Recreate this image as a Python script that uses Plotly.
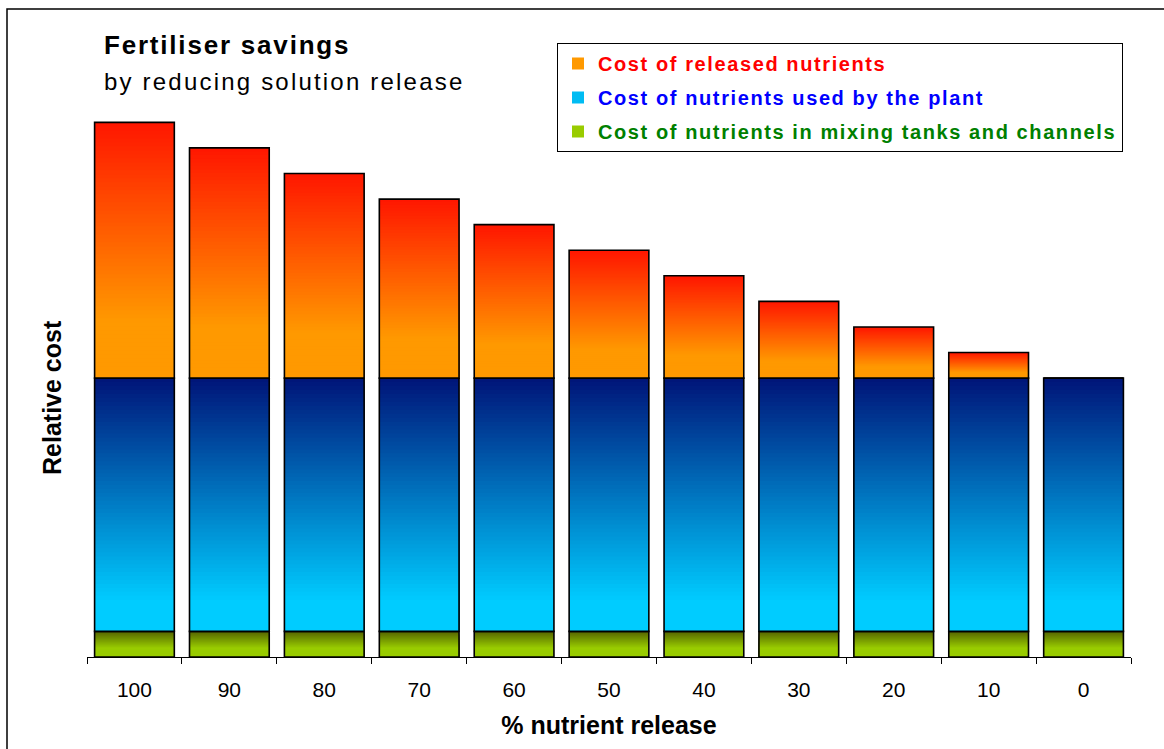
import plotly.graph_objects as go

# ---- data ----
categories = ["100", "90", "80", "70", "60", "50", "40", "30", "20", "10", "0"]
released = [10.0, 9.0, 8.0, 7.0, 6.0, 5.0, 4.0, 3.0, 2.0, 1.0, 0.0]
plant = [9.9] * 11
tanks = [1.0] * 11

series_names = [
    "Cost of released nutrients",
    "Cost of nutrients used by the plant",
    "Cost of nutrients in mixing tanks and channels",
]
series_text_colors = ["#FF0000", "#0000FF", "#008000"]

# gradient styles: (top colour, bottom colour, fraction of height over which gradient runs)
grad_released = ((255, 22, 0), (255, 153, 0), 0.78)
grad_plant = ((0, 20, 120), (0, 204, 255), 0.88)
grad_tanks = ((85, 100, 0), (153, 204, 0), 0.65)

N = 64
FONT = "Liberation Sans, Arial, sans-serif"


def lerp_col(c0, c1, t):
    return "rgb(%d,%d,%d)" % tuple(round(a + (b - a) * t) for a, b in zip(c0, c1))


fig = go.Figure()


def add_segment(values, bases, grad, name, legend_rank, text_color):
    top, bottom, span = grad
    for i in range(N):
        # layer i covers the segment from its base up to (N-i)/N of its height;
        # later layers sit on top of earlier ones -> vertical gradient without seams
        t_mid = (i + 0.5) / N
        col = lerp_col(top, bottom, min(t_mid / span, 1.0))
        y = [v * (N - i) / N for v in values]
        show = (i == int(N * 0.8))
        fig.add_trace(go.Bar(
            x=categories, y=y, base=bases,
            marker=dict(color=col, line=dict(width=0)),
            showlegend=show,
            name='<span style="color:%s;letter-spacing:1.6px">%s</span>' % (text_color, name),
            legendgroup=name, legendrank=legend_rank,
            hoverinfo="skip",
        ))
    fig.add_trace(go.Bar(
        x=categories, y=values, base=bases,
        marker=dict(color="rgba(0,0,0,0)", line=dict(color="black", width=1.6)),
        showlegend=False, legendgroup=name, legendrank=legend_rank, hoverinfo="skip",
    ))


base_tanks = [0.0] * 11
base_plant = [a for a in tanks]
base_released = [a + b for a, b in zip(tanks, plant)]

add_segment(tanks, base_tanks, grad_tanks, series_names[2], 3, series_text_colors[2])
add_segment(plant, base_plant, grad_plant, series_names[1], 2, series_text_colors[1])
add_segment(released, base_released, grad_released, series_names[0], 1, series_text_colors[0])

W, H = 1164, 749
L, R, T, B = 87, 33, 20, 92
pw, ph = W - L - R, H - T - B


def px_x(x):
    return (x - L) / pw


def px_y(y):
    return (H - B - y) / ph


fig.update_layout(
    width=W, height=H,
    margin=dict(l=L, r=R, t=T, b=B),
    barmode="overlay", bargap=0.16,
    plot_bgcolor="white", paper_bgcolor="white",
    font=dict(family=FONT, color="black"),
    showlegend=True,
    legend=dict(
        x=px_x(557), y=px_y(43), xanchor="left", yanchor="top",
        bgcolor="white", bordercolor="black", borderwidth=1,
        font=dict(size=20, family=FONT, weight="bold"),
        tracegroupgap=5, traceorder="grouped",
        itemclick=False, itemdoubleclick=False,
    ),
    xaxis=dict(
        type="category",
        showline=True, linecolor="black", linewidth=1,
        ticks="outside", tickson="boundaries", ticklen=6, tickcolor="black",
        tickfont=dict(size=21, family=FONT, color="black"),
        ticklabelstandoff=14,
        showgrid=False, zeroline=False,
        title=dict(text="% nutrient release", font=dict(size=25, family=FONT, weight="bold"), standoff=16),
    ),
    yaxis=dict(
        range=[0, 24.9],
        showline=False, showgrid=False, zeroline=False,
        showticklabels=False, ticks="",
    ),
    annotations=[
        dict(text='<span style="letter-spacing:1.8px">Fertiliser savings</span>',
             xref="paper", yref="paper", x=px_x(102), y=px_y(45),
             xanchor="left", yanchor="middle", showarrow=False,
             font=dict(size=26, family=FONT, weight="bold", color="black")),
        dict(text='<span style="letter-spacing:2.2px">by reducing solution release</span>',
             xref="paper", yref="paper", x=px_x(102), y=px_y(82),
             xanchor="left", yanchor="middle", showarrow=False,
             font=dict(size=24, family=FONT, color="black")),
        dict(text="Relative cost", textangle=-90,
             xref="paper", yref="paper", x=px_x(52), y=px_y(398),
             xanchor="center", yanchor="middle", showarrow=False,
             font=dict(size=25, family=FONT, weight="bold", color="black")),
    ],
    shapes=[
        dict(type="rect", xref="paper", yref="paper",
             x0=px_x(7), x1=px_x(1175), y0=px_y(770), y1=px_y(9),
             line=dict(color="black", width=1.5), fillcolor="rgba(0,0,0,0)", layer="below"),
    ],
)

fig.write_html("out.html", config={"displayModeBar": False},
               post_script="document.body.style.margin='0';document.body.style.overflow='hidden';")
